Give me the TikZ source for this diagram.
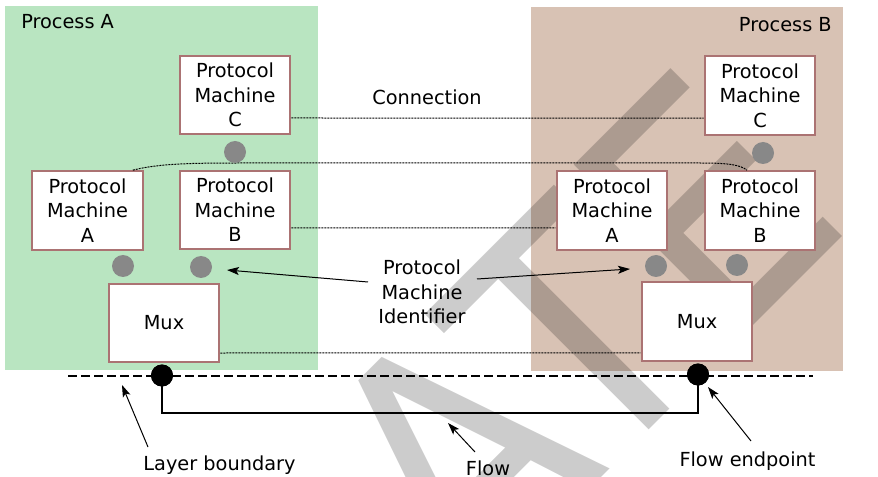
\documentclass[tikz,border=0pt]{standalone}
\usepackage{fontspec}
\newfontfamily\djv{DejaVu Sans}
\newfontfamily\wmfont[FakeStretch=0.9]{DejaVu Sans}
\usetikzlibrary{arrows.meta}
\definecolor{greenbg}{HTML}{B9E5C1}
\definecolor{brownbg}{HTML}{D8C2B4}
\definecolor{boxc}{HTML}{AB7373}
\definecolor{dotc}{HTML}{888888}
\tikzset{
  lbl/.style={font=\djv\fontsize{14.5}{18.4}\selectfont, align=center, inner sep=0pt},
  pmbox/.style={lbl, draw=boxc, line width=1.5pt, fill=white, minimum width=83pt, minimum height=59pt},
  pmdot/.style={circle, fill=dotc, minimum size=16.5pt, inner sep=0pt},
  epdot/.style={circle, fill=black, minimum size=16.5pt, inner sep=0pt},
  conn/.style={line width=0.75pt, dash pattern=on 1.5pt off 0.75pt},
  bound/.style={line width=1.5pt, dash pattern=on 6.75pt off 3pt},
  flowline/.style={line width=1.5pt},
  pointer/.style={line width=0.75pt, -{Stealth[length=9pt,width=6pt,inset=2pt]}},
  wm/.style={font=\wmfont\fontsize{247}{247}\selectfont, text=black, text opacity=0.2, rotate=45, anchor=base west, inner sep=0pt}
}
\begin{document}
\begin{tikzpicture}[x=0.75pt,y=-0.75pt]
\useasboundingbox (0,0) rectangle (878,477);
\clip (0,0) rectangle (878,477);
\fill[white] (0,0) rectangle (878,477);
% process areas
\fill[greenbg] (5,6) rectangle (318,370);
\fill[brownbg] (531,7) rectangle (843,371);
% watermark
\node[wm] (wmk) at (468,611) {ATE};
% labels of areas
\node[lbl, anchor=base west] (pa) at (21,29) {Process A};
\node[lbl, anchor=base east] (pb) at (832,32) {Process B};
% boxes
\node[pmbox] (pmCL) at (235,95) {Protocol\\Machine\\C};
\node[pmbox] (pmAL) at (87.5,210.5) {Protocol\\Machine\\A};
\node[pmbox] (pmBL) at (235,210) {Protocol\\Machine\\B};
\node[pmbox] (muxL) at (164,323) {Mux};
\node[pmbox] (pmCR) at (760,95.5) {Protocol\\Machine\\C};
\node[pmbox] (pmAR) at (612,210.5) {Protocol\\Machine\\A};
\node[pmbox] (pmBR) at (760,210.5) {Protocol\\Machine\\B};
\node[pmbox] (muxR) at (697,321.5) {Mux};
% connections
\draw[conn] ([yshift=-17.25pt]pmCL.east) -- ([yshift=-16.9pt]pmCR.west);
\draw[conn] ([xshift=-8.25pt]pmAL.north east) .. controls (160,163) and (200,163) .. (245,163) -- (700,163) .. controls (730,163) and (740,165) .. ([xshift=-9.75pt]pmBR.north);
\draw[conn] ([yshift=-13.5pt]pmBL.east) -- ([yshift=-13.1pt]pmAR.west);
\draw[conn] ([yshift=-22.5pt]muxL.east) -- ([yshift=-23.6pt]muxR.west);
% identifier dots
\node[pmdot] (dCL) at (235,152) {};
\node[pmdot] (dAL) at (123,266) {};
\node[pmdot] (dBL) at (201,267) {};
\node[pmdot] (dCR) at (763,153) {};
\node[pmdot] (dAR) at (656,266) {};
\node[pmdot] (dBR) at (737,265) {};
% layer boundary and flow
\coordinate (lb1) at (68,376);
\coordinate (lb2) at (813,376);
\draw[bound] (lb1) -- (lb2);
\coordinate (fbL) at (162,413);
\coordinate (fbR) at (698,413);
\node[epdot] (epL) at (162,375.5) {};
\node[epdot] (epR) at (698,374.5) {};
\draw[flowline] (epL.center) -- (fbL) -- (fbR) -- (epR.center);
\node[epdot] at (epL) {};
\node[epdot] at (epR) {};
% labels
\node[lbl] (cn) at (427,97) {Connection};
\node[lbl] (pmi) at (422,292) {Protocol\\Machine\\Identifier};
\node[lbl, anchor=base] (lbt) at (219.5,470) {Layer boundary};
\node[lbl, anchor=base] (flt) at (488,475) {Flow};
\node[lbl, anchor=base] (fet) at (747.5,466) {Flow endpoint};
% pointers
\coordinate (pL1) at (368,282);
\coordinate (pL2) at (227,270);
\coordinate (pR1) at (477,279);
\coordinate (pR2) at (630,269);
\draw[pointer] (pL1) -- (pL2);
\draw[pointer] (pR1) -- (pR2);
\coordinate (lbA) at (148,447);
\coordinate (lbB) at (122,385);
\draw[pointer] (lbA) -- (lbB);
\coordinate (flA) at (475,452);
\coordinate (flB) at (448,423);
\draw[pointer] (flA) -- (flB);
\coordinate (feA) at (751,441);
\coordinate (feB) at (708,387);
\draw[pointer] (feA) -- (feB);
\end{tikzpicture}
\end{document}
